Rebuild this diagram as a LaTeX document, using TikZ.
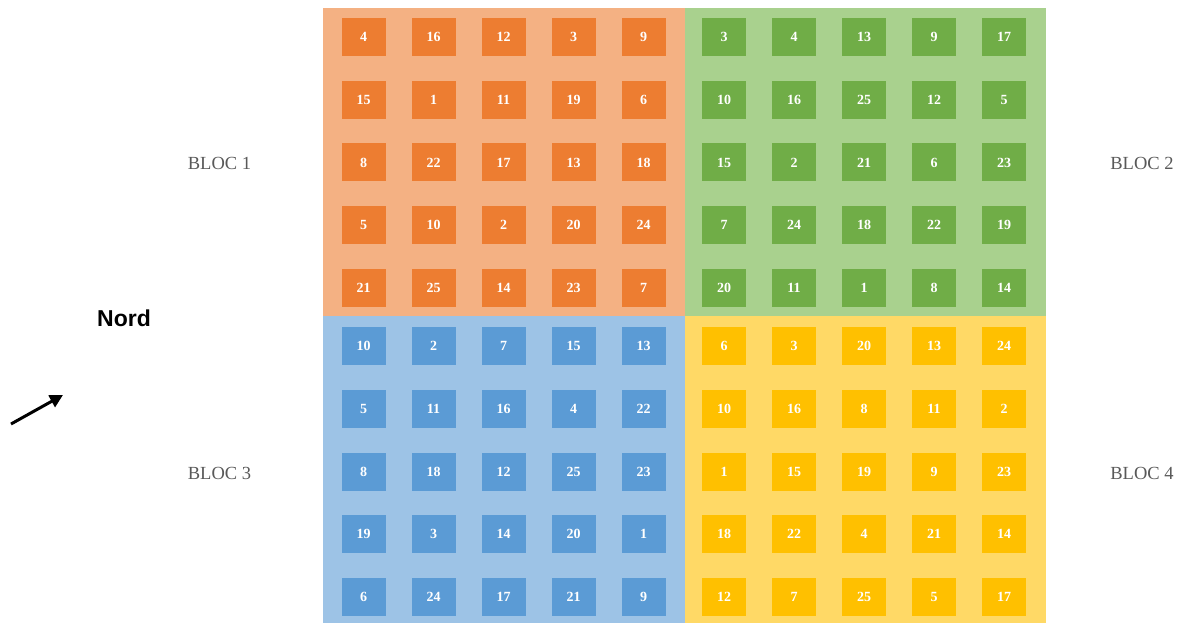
\documentclass[tikz,border=0pt]{standalone}
\usepackage{fontspec}
\setmainfont{Liberation Serif}
\newfontfamily\arialfont{Liberation Sans}
\usetikzlibrary{arrows.meta}
\definecolor{ofg}{HTML}{ED7D31}
\definecolor{obg}{HTML}{F4B183}
\definecolor{gfg}{HTML}{70AD47}
\definecolor{gbg}{HTML}{A9D18E}
\definecolor{bfg}{HTML}{5B9BD5}
\definecolor{bbg}{HTML}{9DC3E6}
\definecolor{yfg}{HTML}{FFC000}
\definecolor{ybg}{HTML}{FFD966}
\definecolor{bloctext}{HTML}{595959}
\begin{document}
\begin{tikzpicture}[x=1pt,y=-1pt,
  blockbg/.style={minimum width=#1, minimum height=308pt, inner sep=0, anchor=north west, draw=none},
  cell/.style={minimum width=44pt, minimum height=38pt, inner sep=0, text=white,
    font=\fontsize{14}{14}\selectfont\bfseries},
  bloclabel/.style={text=bloctext, font=\fontsize{18.5}{18.5}\selectfont},
  nordlabel/.style={font=\arialfont\bfseries\fontsize{23}{23}\selectfont}]
\useasboundingbox (0,0) rectangle (1181,623);
% block backgrounds
\node[blockbg=362pt, fill=obg] (bg1) at (323,8) {};
\node[blockbg=361pt, fill=gbg] (bg2) at (685,8) {};
\node[blockbg=362pt, fill=bbg, minimum height=307pt] (bg3) at (323,316) {};
\node[blockbg=361pt, fill=ybg, minimum height=307pt] (bg4) at (685,316) {};
% block 1
\foreach \v [count=\k from 0] in {4,16,12,3,9, 15,1,11,19,6, 8,22,17,13,18, 5,10,2,20,24, 21,25,14,23,7}{
  \pgfmathtruncatemacro\c{mod(\k,5)}\pgfmathtruncatemacro\r{div(\k,5)}
  \node[cell, fill=ofg] (a\k) at (363.5+70*\c, 37+62.75*\r) {\v};
}
% block 2
\foreach \v [count=\k from 0] in {3,4,13,9,17, 10,16,25,12,5, 15,2,21,6,23, 7,24,18,22,19, 20,11,1,8,14}{
  \pgfmathtruncatemacro\c{mod(\k,5)}\pgfmathtruncatemacro\r{div(\k,5)}
  \node[cell, fill=gfg] (b\k) at (724+70*\c, 37+62.75*\r) {\v};
}
% block 3
\foreach \v [count=\k from 0] in {10,2,7,15,13, 5,11,16,4,22, 8,18,12,25,23, 19,3,14,20,1, 6,24,17,21,9}{
  \pgfmathtruncatemacro\c{mod(\k,5)}\pgfmathtruncatemacro\r{div(\k,5)}
  \node[cell, fill=bfg] (c\k) at (363.5+70*\c, 346+62.75*\r) {\v};
}
% block 4
\foreach \v [count=\k from 0] in {6,3,20,13,24, 10,16,8,11,2, 1,15,19,9,23, 18,22,4,21,14, 12,7,25,5,17}{
  \pgfmathtruncatemacro\c{mod(\k,5)}\pgfmathtruncatemacro\r{div(\k,5)}
  \node[cell, fill=yfg] (d\k) at (724+70*\c, 346+62.75*\r) {\v};
}
% labels
\node[bloclabel] (l1) at (219.5,163) {BLOC 1};
\node[bloclabel] (l2) at (1142,163) {BLOC 2};
\node[bloclabel] (l3) at (219.5,473) {BLOC 3};
\node[bloclabel] (l4) at (1142,473) {BLOC 4};
\node[nordlabel] (nord) at (124,318) {Nord};
% north arrow
\coordinate (arrtail) at (11,424);
\coordinate (arrhead) at (63,395);
\draw[line width=3pt, -{Triangle[length=13pt,width=13pt]}] (arrtail) -- (arrhead);
\end{tikzpicture}
\end{document}
